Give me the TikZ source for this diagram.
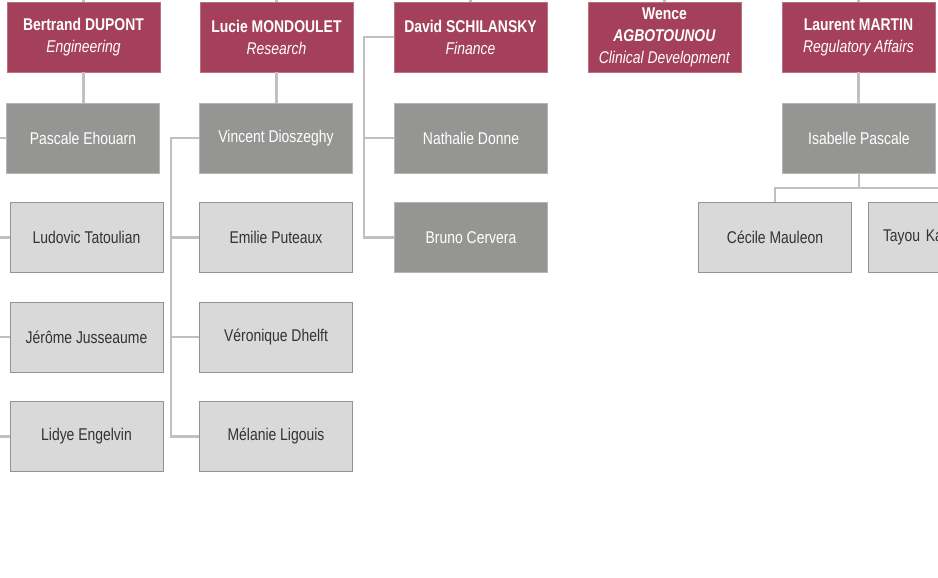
\documentclass[tikz,border=0pt]{standalone}
\usepackage{fontspec}
\setmainfont{Liberation Sans}[FakeStretch=0.82]
\definecolor{jefe}{HTML}{A5405A}
\definecolor{medio}{HTML}{959694}
\definecolor{claro}{HTML}{D9D9D9}
\definecolor{linea}{HTML}{C0C0C0}
\tikzset{
  caja/.style={minimum width=153pt, minimum height=70pt, inner sep=0pt, align=center,
    font=\fontsize{17}{22}\selectfont},
  jefecaja/.style={caja, fill=jefe, draw=jefe!75!white, text=white},
  mediocaja/.style={caja, fill=medio, draw=medio!70!white, text=white},
  clarocaja/.style={caja, fill=claro, draw=gray!85, text=black!80},
  rama/.style={draw=linea, line width=2.5pt}
}
\begin{document}
\begin{tikzpicture}[x=1pt,y=-1pt]
    \clip (0,0) rectangle (938,578);
    \fill[white] (0,0) rectangle (938,578);
    \coordinate (techo) at (0,0);
    \coordinate (borde) at (0,0);
    % Directores
    \node[jefecaja] (bertrand) at (83.5,37) {\textbf{Bertrand DUPONT}\\\textit{Engineering}};
    \node[jefecaja] (lucie) at (276.5,37) {\textbf{Lucie MONDOULET}\\\textit{Research}};
    \node[jefecaja] (david) at (470.5,37) {\textbf{David SCHILANSKY}\\\textit{Finance}};
    \node[jefecaja] (wence) at (664.5,37) {\textbf{Wence}\\\textbf{\textit{AGBOTOUNOU}}\\\textit{Clinical Development}};
    \node[jefecaja] (laurent) at (858.5,37) {\textbf{Laurent MARTIN}\\\textit{Regulatory Affairs}};
    % Segundo nivel
    \node[mediocaja] (pascale) at (83,138) {Pascale Ehouarn};
    \node[mediocaja] (vincent) at (276,138) {Vincent Dioszeghy};
    \node[mediocaja] (nathalie) at (471,138) {Nathalie Donne};
    \node[mediocaja] (isabelle) at (859,138) {Isabelle Pascale};
    \node[mediocaja] (bruno) at (471,237.5) {Bruno Cervera};
    % Equipos
    \node[clarocaja] (ludovic) at (86.5,237.5) {Ludovic Tatoulian};
    \node[clarocaja] (jerome) at (86.5,337) {Jérôme Jusseaume};
    \node[clarocaja] (lidye) at (86.5,436.5) {Lidye Engelvin};
    \node[clarocaja] (emilie) at (276,237.5) {Emilie Puteaux};
    \node[clarocaja] (veronique) at (276,337) {Véronique Dhelft};
    \node[clarocaja] (melanie) at (276,436.5) {Mélanie Ligouis};
    \node[clarocaja] (cecile) at (775,237.5) {Cécile Mauleon};
    \node[clarocaja, text width=124pt, inner xsep=15pt, align=left] (tayou) at (945,237.5) {Tayou Ka};
    % Conexiones
    \draw[rama] (bertrand.north) -- (bertrand.north |- techo);
    \draw[rama] (lucie.north) -- (lucie.north |- techo);
    \draw[rama] (david.north) -- (david.north |- techo);
    \draw[rama] (wence.north) -- (wence.north |- techo);
    \draw[rama] (laurent.north) -- (laurent.north |- techo);
    \draw[rama] (bertrand.south) -- (bertrand.south |- pascale.north);
    \draw[rama] (lucie.south) -- (lucie.south |- vincent.north);
    \draw[rama] (laurent.south) -- (laurent.south |- isabelle.north);
    \draw[rama] (pascale.west) -- (pascale.west -| borde);
    \draw[rama] (ludovic.west) -- (ludovic.west -| borde);
    \draw[rama] (jerome.west) -- (jerome.west -| borde);
    \draw[rama] (lidye.west) -- (lidye.west -| borde);
    \coordinate (bv) at (171,138);
    \draw[rama] (vincent.west) -- (bv) |- (melanie.west);
    \draw[rama] (emilie.west) -- (emilie.west -| bv);
    \draw[rama] (veronique.west) -- (veronique.west -| bv);
    \coordinate (bd) at (364,37);
    \draw[rama] (david.west) -- (bd) |- (bruno.west);
    \draw[rama] (nathalie.west) -- (nathalie.west -| bd);
    \coordinate (bi) at (859,188);
    \draw[rama] (isabelle.south) -- (bi);
    \draw[rama] (cecile.north) |- (bi) -| (tayou.north);
\end{tikzpicture}
\end{document}
